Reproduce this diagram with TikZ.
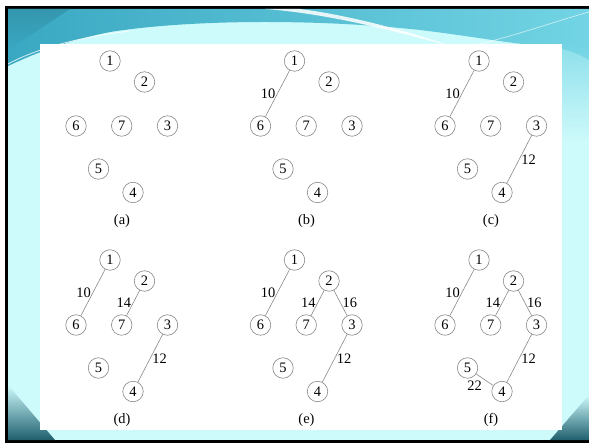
\documentclass[tikz,border=0pt]{standalone}
\usepackage{fontspec}
\setmainfont{Liberation Serif}
\definecolor{palecyan}{HTML}{CDFAFB}
\definecolor{midcyan}{HTML}{72D4E4}
\definecolor{deepcyan}{HTML}{3AA8C2}
\definecolor{darkteal}{HTML}{1F5F6E}
\definecolor{ringgray}{HTML}{8A8A8A}
\tikzset{
  vert/.style={circle, draw=ringgray, line width=0.6bp, minimum size=20.5bp, inner sep=0pt, font=\fontsize{14.5}{16}\selectfont},
  edge/.style={draw=ringgray, line width=0.6bp},
  wlbl/.style={font=\fontsize{14.5}{16}\selectfont, inner sep=1.8bp},
  caplbl/.style={font=\fontsize{14.5}{16}\selectfont, inner sep=0pt}
}
\begin{document}
\begin{tikzpicture}[x=1bp,y=-1bp]
\useasboundingbox (0,0) rectangle (589,443);
% background and frame
\fill[white] (0,0) rectangle (589,443);
\fill[palecyan] (8,9) rectangle (589,440);
\fill[black] (5,6) rectangle (589,9);
\fill[black] (5,6) rectangle (8,443);
\fill[black] (5,440) rectangle (589,443);
% top band
\shade[left color=deepcyan, right color=midcyan]
  (8,9) -- (589,9) -- (589,60) .. controls (575,52) and (565,48) .. (540,46)
  .. controls (500,42) and (470,36) .. (420,30)
  .. controls (330,20) and (200,18) .. (110,32)
  .. controls (60,42) and (25,58) .. (8,66) -- cycle;
\shade[shading=axis, shading angle=135, top color=deepcyan!70!darkteal, bottom color=deepcyan, opacity=0.8]
  (8,9) -- (70,9) -- (8,50) -- cycle;
\fill[white, opacity=0.85] (265,9) .. controls (330,14) and (390,30) .. (450,46)
  .. controls (400,28) and (340,14) .. (300,9) -- cycle;
\draw[white, line width=0.8bp, opacity=0.8] (8,64) .. controls (30,52) and (70,38) .. (130,31);
\draw[white, line width=0.6bp, opacity=0.7] (480,44) .. controls (520,34) and (560,20) .. (589,12);
% right strip gradient
\shade[top color=midcyan, bottom color=palecyan, opacity=0.7] (562,44) rectangle (589,140);
% bottom corners
\shade[shading=axis, shading angle=45, top color=palecyan, bottom color=darkteal]
  (8,385) -- (8,440) -- (55,440) -- cycle;
\shade[shading=axis, shading angle=-45, top color=palecyan, bottom color=darkteal]
  (589,395) -- (589,440) -- (550,440) -- cycle;
% white panel
\fill[white] (40,44) rectangle (562,430);
% panels
\foreach \p/\dx/\dy in {a/0/0, b/184.5/0, c/369/0, d/0/199, e/184.5/199, f/369/199}{
  \begin{scope}[shift={(\dx,\dy)}]
    \node[vert] (\p1) at (110,61) {1};
    \node[vert] (\p2) at (144.5,82) {2};
    \node[vert] (\p6) at (76,126) {6};
    \node[vert] (\p7) at (121.7,126) {7};
    \node[vert] (\p3) at (167.5,126) {3};
    \node[vert] (\p5) at (98.5,169) {5};
    \node[vert] (\p4) at (133,192.5) {4};
    \node[caplbl] (\p cap) at (122,221) {(\p)};
  \end{scope}
}
% edges
\foreach \p in {b,c,d,e,f}{
  \draw[edge] (\p1) -- node[wlbl, left] {10} (\p6);
}
\foreach \p in {c,d,e,f}{
  \draw[edge] (\p3) -- node[wlbl, right] {12} (\p4);
}
\foreach \p in {d,e,f}{
  \draw[edge] (\p2) -- node[wlbl, left] {14} (\p7);
}
\foreach \p in {e,f}{
  \draw[edge] (\p2) -- node[wlbl, right] {16} (\p3);
}
\draw[edge] (f5) -- node[wlbl, below left, pos=0.45] {22} (f4);
\end{tikzpicture}
\end{document}
